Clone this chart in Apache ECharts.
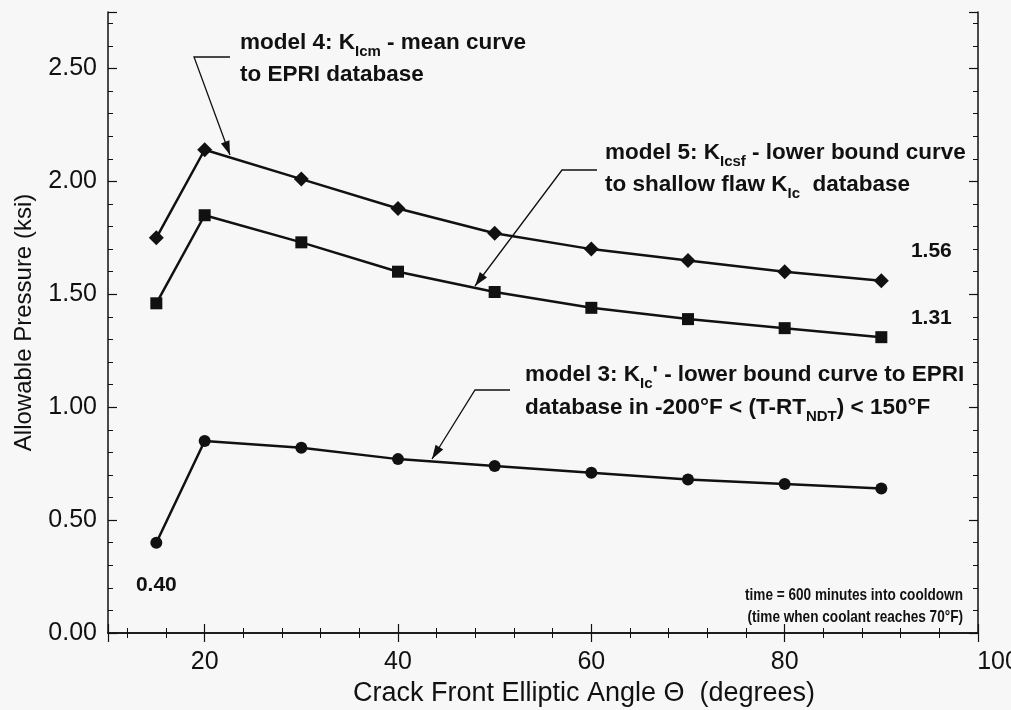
<!DOCTYPE html>
<html>
<head>
<meta charset="utf-8">
<script src="https://cdn.jsdelivr.net/npm/echarts@6/dist/echarts.min.js"></script>
<style>
  html, body { margin: 0; padding: 0; background: #f7f7f7; }
  #chart { width: 1011px; height: 710px; }
</style>
</head>
<body>
<div id="chart"></div>
<script>
// crack front elliptic angle (degrees)
const angles = [15, 20, 30, 40, 50, 60, 70, 80, 90]
// allowable pressure (ksi) per model
const model4 = [1.75, 2.14, 2.01, 1.88, 1.77, 1.70, 1.65, 1.60, 1.56]
const model5 = [1.46, 1.85, 1.73, 1.60, 1.51, 1.44, 1.39, 1.35, 1.31]
const model3 = [0.40, 0.85, 0.82, 0.77, 0.74, 0.71, 0.68, 0.66, 0.64]

const font = 'Liberation Sans, Arial, Helvetica, sans-serif'
const ink = '#111'

// only one point per curve carries a value label
function buildData(vals, labelIdx, offset) {
  return vals.map((v, i) => {
    const item = { value: [angles[i], v] }
    if (i === labelIdx) {
      item.label = {
        show: true,
        position: 'inside',
        offset: offset,
        formatter: p => p.value[1].toFixed(2),
        color: ink,
        fontFamily: font,
        fontWeight: 'bold',
        fontSize: 21
      }
    }
    return item
  })
}

function lineSeries(name, vals, symbol, size, labelIdx, offset) {
  return {
    name: name,
    type: 'line',
    data: buildData(vals, labelIdx, offset),
    symbol: symbol,
    symbolSize: size,
    showAllSymbol: true,
    lineStyle: { color: ink, width: 2.5 },
    itemStyle: { color: ink },
    emphasis: { disabled: true },
    z: 3
  }
}

const richSub = {
  sub: { fontSize: 15, fontWeight: 'bold', fontFamily: font, padding: [18, 0, 0, 0], fill: ink }
}

function note(x, y, text, align, size, sx) {
  return {
    type: 'text',
    x: x,
    y: y,
    scaleX: sx || 1,
    style: {
      text: text,
      fill: ink,
      font: 'bold ' + (size || 22.5) + 'px ' + font,
      align: align || 'left',
      verticalAlign: 'middle',
      rich: richSub
    }
  }
}

function arrow(points) {
  const tip = points[points.length - 1]
  const prev = points[points.length - 2]
  const ang = Math.atan2(tip[1] - prev[1], tip[0] - prev[0])
  const len = 14, half = 4.5
  const bx = tip[0] - len * Math.cos(ang), by = tip[1] - len * Math.sin(ang)
  const head = [
    tip,
    [bx + half * Math.sin(ang), by - half * Math.cos(ang)],
    [bx - half * Math.sin(ang), by + half * Math.cos(ang)]
  ]
  return [
    { type: 'polyline', shape: { points: points }, style: { stroke: ink, lineWidth: 1.3, fill: null } },
    { type: 'polygon', shape: { points: head }, style: { fill: ink } }
  ]
}

const chart = echarts.init(document.getElementById('chart'))

const axisCommon = {
  type: 'value',
  axisLine: { show: true, lineStyle: { color: ink, width: 1.5 } },
  axisTick: { show: true, inside: true, length: 9, lineStyle: { color: ink, width: 1.2 } },
  minorTick: { show: true, splitNumber: 5, length: 5, lineStyle: { color: ink, width: 1 } },
  splitLine: { show: false }
}

const option = {
  backgroundColor: '#f7f7f7',
  animation: false,
  grid: { left: 108, right: 33, top: 12, bottom: 77, containLabel: false, outerBoundsMode: 'none' },
  xAxis: [
    Object.assign({}, axisCommon, {
      min: 10,
      max: 100,
      name: 'Crack Front Elliptic Angle Θ  (degrees)',
      nameLocation: 'middle',
      nameGap: 47,
      nameTextStyle: { color: ink, fontFamily: font, fontSize: 27, padding: [0, 0, 0, 82] },
      axisLabel: {
        color: ink, fontFamily: font, fontSize: 25, margin: 17, showMinLabel: false,
        // the last label sits partly past the frame edge, as in the scan
        formatter: v => (v === 100 ? '{edge|100}' : String(v)),
        rich: { edge: { fontSize: 25, fontFamily: font, color: ink, padding: [0, 0, 0, 40] } }
      }
    }),
    Object.assign({}, axisCommon, {
      min: 10,
      max: 100,
      position: 'top',
      axisLabel: { show: false }
    })
  ],
  yAxis: [
    Object.assign({}, axisCommon, {
      min: 0,
      max: 2.75,
      interval: 0.5,
      name: 'Allowable Pressure (ksi)',
      nameLocation: 'middle',
      nameGap: 72,
      nameTextStyle: { color: ink, fontFamily: font, fontSize: 24 },
      axisLabel: {
        color: ink, fontFamily: font, fontSize: 25, margin: 11, showMaxLabel: false,
        formatter: v => v.toFixed(2)
      }
    }),
    Object.assign({}, axisCommon, {
      min: 0,
      max: 2.75,
      interval: 0.5,
      position: 'right',
      axisLabel: { show: false }
    })
  ],
  series: [
    lineSeries('model 4', model4, 'diamond', 15, 8, [50, -30]),
    lineSeries('model 5', model5, 'rect', 12, 8, [50, -19]),
    lineSeries('model 3', model3, 'circle', 12, 0, [0, 43])
  ],
  graphic: [
    note(240, 43, 'model 4: K{sub|Icm} - mean curve'),
    note(240, 75, 'to EPRI database'),
    ...arrow([[230, 57], [194, 57], [230, 155]]),
    note(605, 153, 'model 5: K{sub|Icsf} - lower bound curve'),
    note(605, 185, 'to shallow flaw K{sub|Ic}  database'),
    ...arrow([[597, 170], [562, 170], [475, 286]]),
    note(525, 375, "model 3: K{sub|Ic}' - lower bound curve to EPRI"),
    note(525, 408, 'database in -200°F < (T-RT{sub|NDT}) < 150°F'),
    ...arrow([[510, 390], [475, 390], [432, 459]]),
    note(963, 595, 'time = 600 minutes into cooldown', 'right', 17, 0.8),
    note(963, 617, '(time when coolant reaches 70°F)', 'right', 17, 0.8)
  ]
}

chart.setOption(option)
</script>
</body>
</html>
